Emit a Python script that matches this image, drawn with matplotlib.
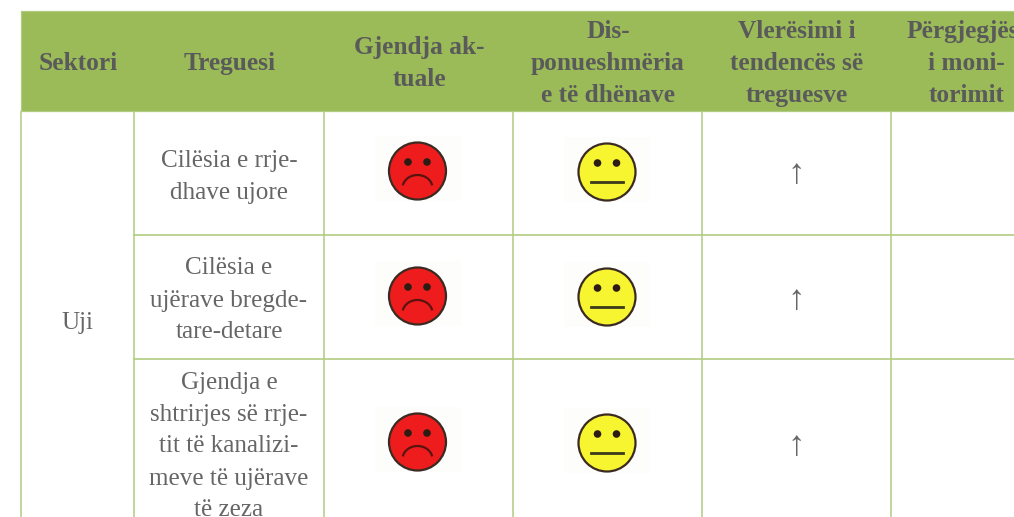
import matplotlib
matplotlib.use("Agg")
import matplotlib.pyplot as plt
from matplotlib.patches import Rectangle, Circle, Arc

W, H = 1014, 517
HEADERS = [["Sektori"], ["Treguesi"], ["Gjendja ak-", "tuale"],
           ["Dis-", "ponueshmëria", "e të dhënave"],
           ["Vlerësimi i", "tendencës së", "treguesve"],
           ["Përgjegjësi", "i moni-", "torimit"]]
SECTOR = "Uji"
INDICATORS = [["Cilësia e rrje-", "dhave ujore"],
              ["Cilësia e", "ujërave bregde-", "tare-detare"],
              ["Gjendja e", "shtrirjes së rrje-", "tit të kanalizi-", "meve të ujërave", "të zeza"]]
STATE = ["bad", "bad", "bad"]
AVAILABILITY = ["neutral", "neutral", "neutral"]
TREND = ["↑", "↑", "↑"]

COL_X = [21, 134, 324, 513, 702, 891, 1041]
ROW_Y = [11, 111, 235, 359, 530]
TEXT_CY = [174, 298, 444]
FACE_CY = [171, 296, 442]
AVAIL_CY = [172, 297, 443]
ARROW_CY = [175, 300, 446]
LINE = "#b0cc80"
HEAD = "#9bbb59"
INK = "#5a5a5a"
BODY = "#666666"
SERIF = "Liberation Serif"

fig = plt.figure(figsize=(W / 100, H / 100), dpi=100, facecolor="white")
ax = fig.add_axes([0, 0, 1, 1])
ax.set_xlim(0, W)
ax.set_ylim(H, 0)
ax.axis("off")

ax.add_patch(Rectangle((COL_X[0], ROW_Y[0]), W - COL_X[0] + 80, ROW_Y[1] - ROW_Y[0],
                       fc=HEAD, ec=LINE, lw=0.9, zorder=1))
for x in COL_X[:-1]:
    ax.plot([x, x], [ROW_Y[1], H + 5], color=LINE, lw=1.1, zorder=2, solid_capstyle="butt")
for y in ROW_Y[2:4]:
    ax.plot([COL_X[1], W], [y, y], color=LINE, lw=1.2, zorder=2)

def block(lines, cx, cy, size, color, weight="normal", step=32):
    n = len(lines)
    for i, t in enumerate(lines):
        ax.text(cx, cy + (i - (n - 1) / 2) * step, t, ha="center", va="center_baseline",
                family=SERIF, fontsize=size, color=color, weight=weight, zorder=5)

def face(cx, cy, kind):
    fill = "#ee1c1c" if kind == "bad" else "#f7f52f"
    ax.add_patch(Rectangle((cx - 43, cy - 35), 86, 65, fc="#fdfdfb", ec="none", zorder=3))
    ax.add_patch(Circle((cx, cy), 28.5, fc=fill, ec="#3a2a22", lw=1.6, zorder=4))
    for dx in (-9.5, 9.5):
        ax.add_patch(Circle((cx + dx, cy - 9), 3.8, fc="#2d1c14", ec="none", zorder=5))
    if kind == "bad":
        ax.add_patch(Arc((cx, cy + 17), 30, 26, theta1=190, theta2=350,
                         ec="#5a1410", lw=1.6, zorder=5))
    else:
        ax.plot([cx - 16, cx + 16], [cy + 9.5, cy + 9.5], color="#3a3a1a", lw=2.0, zorder=5)

for j, h in enumerate(HEADERS):
    cx = (COL_X[j] + COL_X[j + 1]) / 2
    block(h, cx + 0.5, 61, 18.3, INK, "bold")

block([SECTOR], (COL_X[0] + COL_X[1]) / 2, 321, 18.1, BODY)
for i, lines in enumerate(INDICATORS):
    block(lines, (COL_X[1] + COL_X[2]) / 2, TEXT_CY[i], 18.1, BODY)
    face(417.5, FACE_CY[i], STATE[i])
    face(607, AVAIL_CY[i], AVAILABILITY[i])
    ax.text(796, ARROW_CY[i], TREND[i], ha="center", va="center", family=SERIF,
            fontsize=25, color=BODY, zorder=5)

fig.savefig("out.png", dpi=100)
